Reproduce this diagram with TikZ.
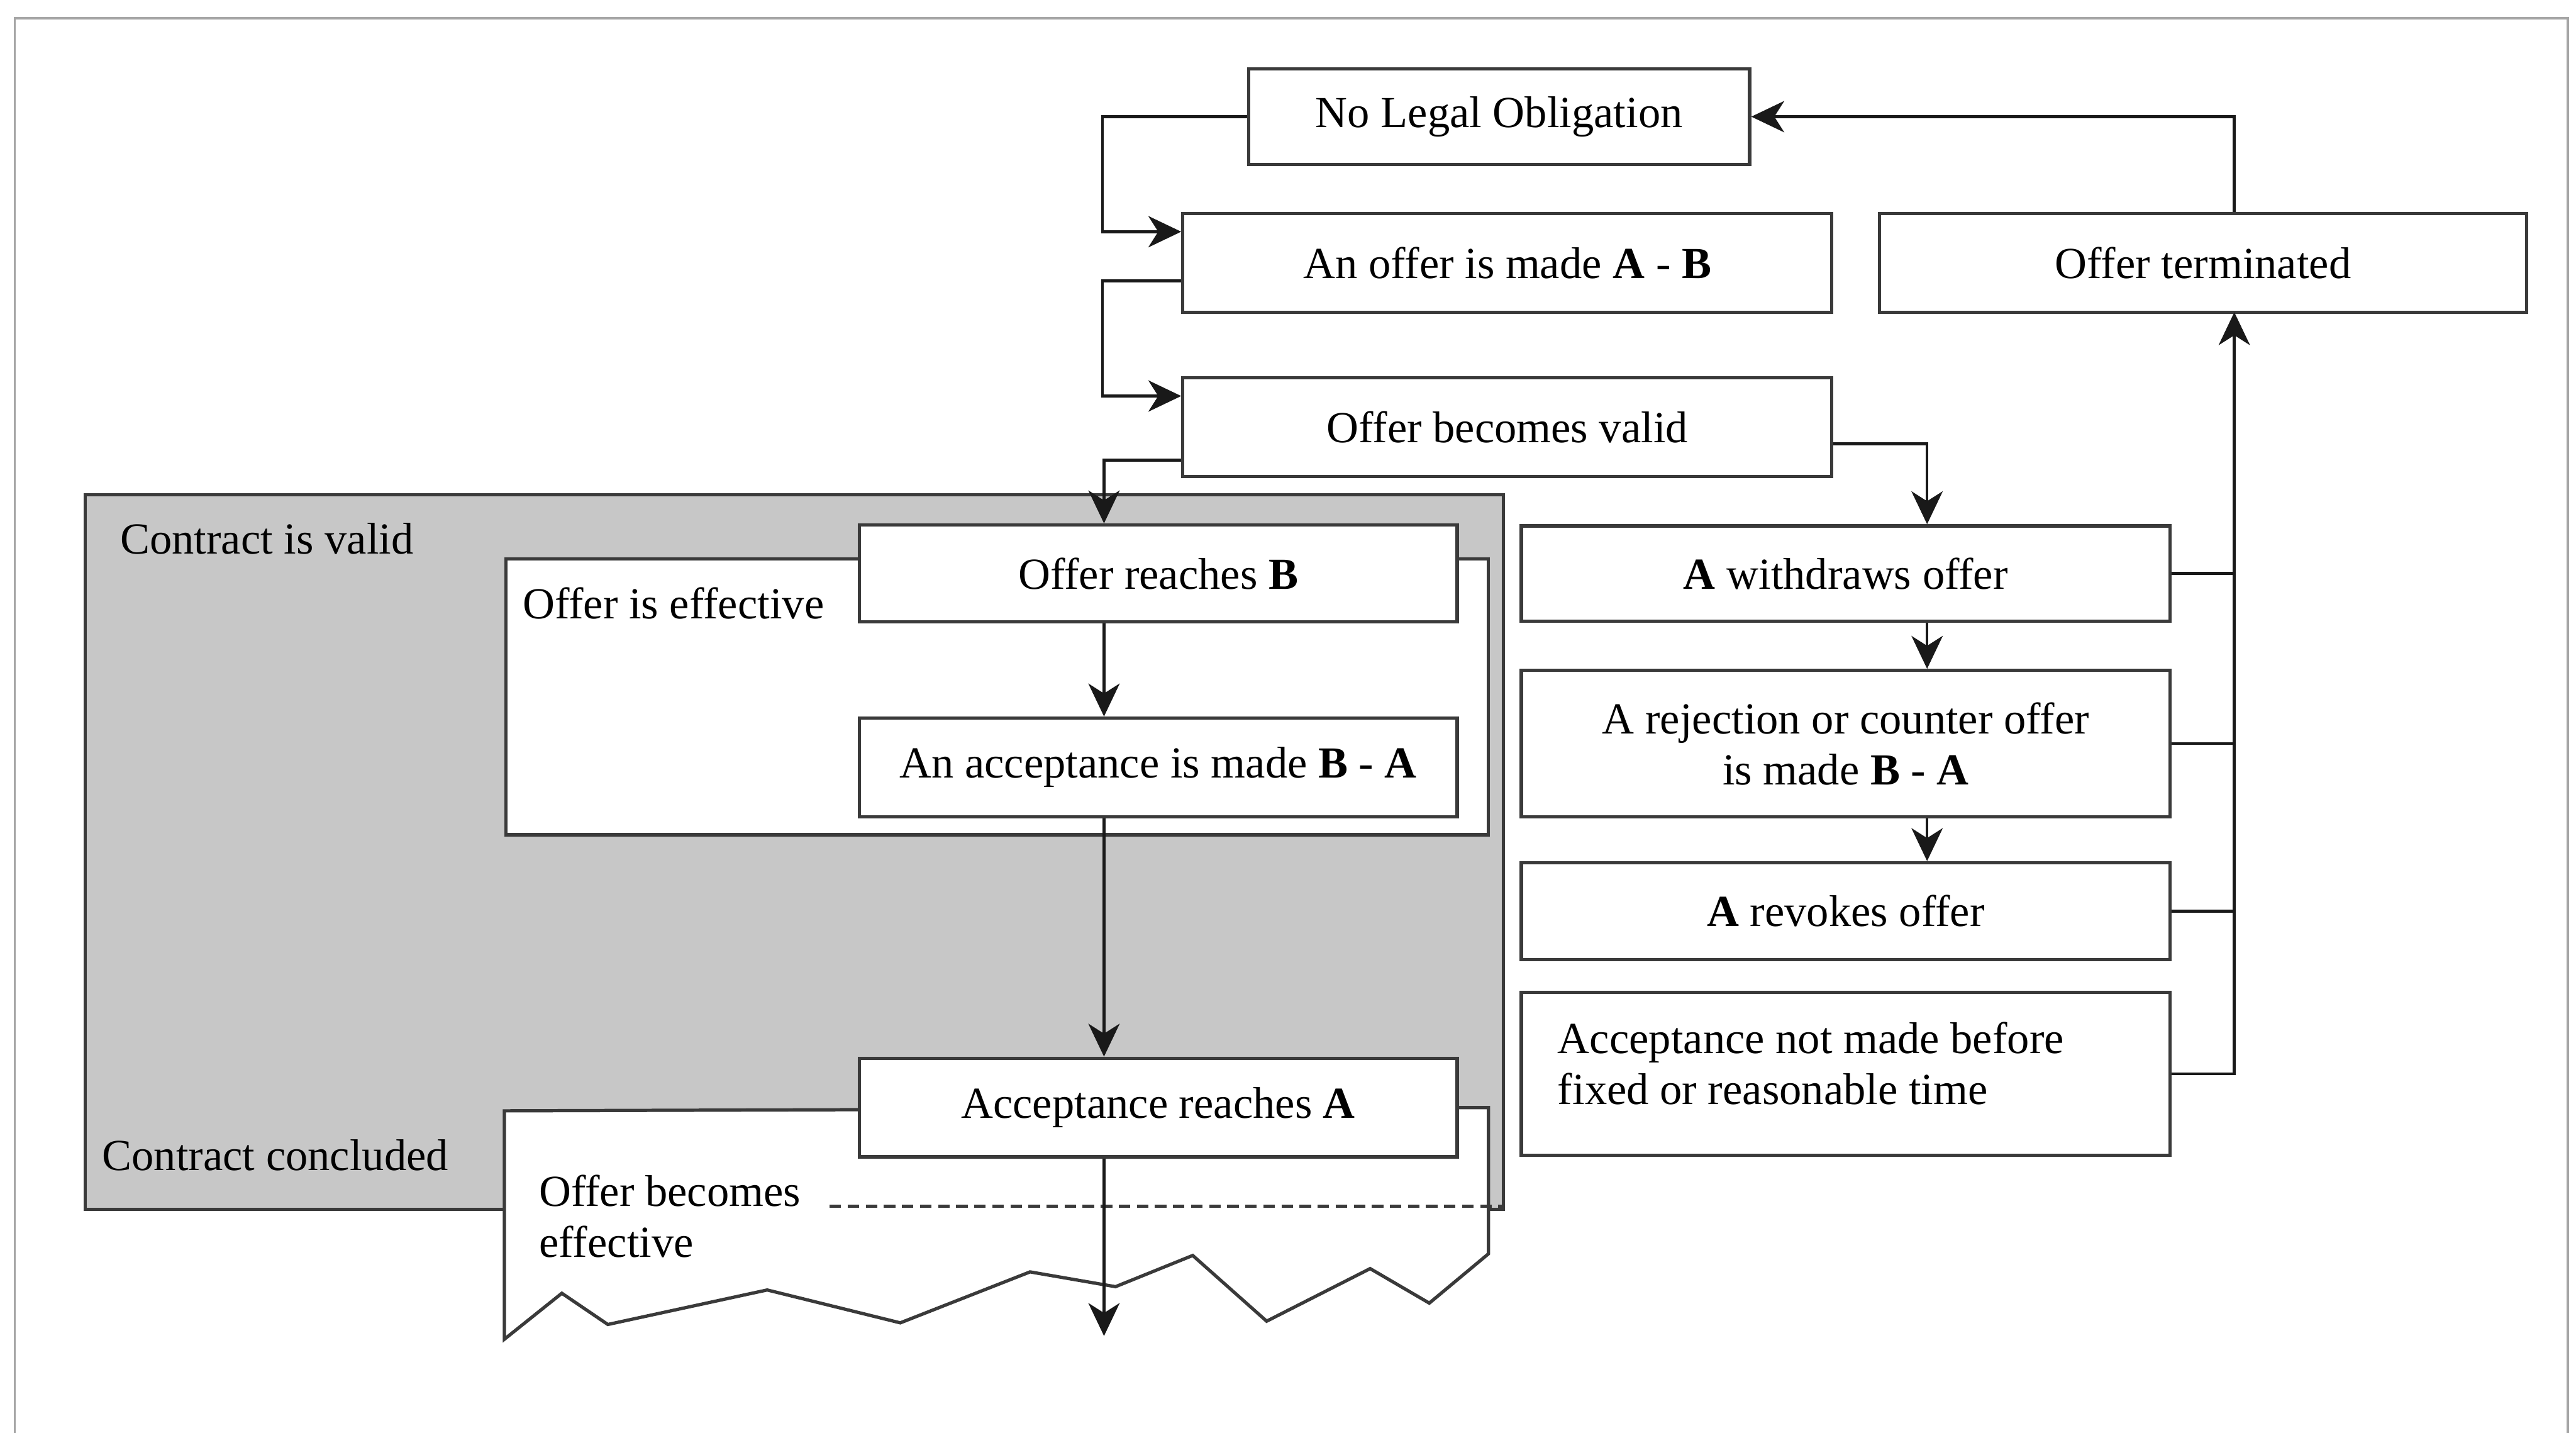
\documentclass[tikz,border=0pt]{standalone}
\usepackage{fontspec}
\setmainfont{Liberation Serif}
\usetikzlibrary{arrows.meta}
\definecolor{shade}{HTML}{C7C7C7}
\definecolor{edge}{HTML}{3A3A3A}
\begin{document}
\begin{tikzpicture}[x=1pt,y=-1pt,
  every node/.style={font=\fontsize{27}{31}\selectfont},
  box/.style={draw=edge,line width=2pt,fill=white,inner sep=0pt,align=center},
  rbox/.style={box,minimum width=395pt},
  cbox/.style={box,minimum width=364pt,minimum height=59pt},
  lbl/.style={inner sep=0pt,anchor=west,align=left},
  conn/.style={line width=1.7pt,black!90},
  arr/.style={conn,-{Stealth[length=20pt,width=19pt,inset=6pt]}}]
\useasboundingbox (0,0) rectangle (1568,871.7);
\fill[white] (0,0) rectangle (1568,871.7);
% page frame
\draw[gray!70,line width=1.5pt] (9,900) -- (9,11) -- (1563,11) -- (1563,900);

% shaded region: contract is valid
\draw[edge,line width=2pt,fill=shade] (52,736) -- (52,301) -- (915,301) -- (915,736) -- cycle;
% offer is effective
\draw[edge,line width=2pt,fill=white] (308,340) rectangle (906,508);
% offer becomes effective (torn lower edge)
\draw[edge,line width=2pt,fill=white] (307,815) -- (307,676) -- (906,674) -- (906,763)
  -- (870,793) -- (834,772) -- (771,804) -- (726,764) -- (679,783) -- (627,774)
  -- (548,805) -- (467,785) -- (370,806) -- (342,787) -- cycle;
\draw[edge,line width=2pt,dashed,dash pattern=on 7pt off 4pt] (505,734) -- (915,734);

% labels of the regions
\node[lbl] (cvalid) at (73,328) {Contract is valid};
\node[lbl] (oeff) at (318,367) {Offer is effective};
\node[lbl] (cconc) at (62,703) {Contract concluded};
\node[lbl] (obeff) at (328,740) {Offer becomes\\effective};

% boxes
\node[box,minimum width=305pt,minimum height=58pt] (nlo) at (912.5,71) {No Legal Obligation};
\node[rbox,minimum height=60pt] (offer) at (917.5,160) {An offer is made \textbf{A} - \textbf{B}};
\node[box,minimum width=394pt,minimum height=60pt] (term) at (1341,160) {Offer terminated};
\node[rbox,minimum height=60pt] (valid) at (917.5,260) {Offer becomes valid};
\node[cbox] (reachB) at (705,349) {Offer reaches \textbf{B}};
\node[cbox,minimum height=60pt] (accmade) at (705,467) {An acceptance is made \textbf{B} - \textbf{A}};
\node[cbox,minimum height=60pt] (accreach) at (705,674) {Acceptance reaches \textbf{A}};
\node[rbox,minimum height=58pt] (withdraw) at (1123.5,349) {\textbf{A} withdraws offer};
\node[rbox,minimum height=89pt] (reject) at (1123.5,452.5) {A rejection or counter offer\\is made \textbf{B} - \textbf{A}};
\node[rbox,minimum height=59pt] (revoke) at (1123.5,554.5) {\textbf{A} revokes offer};
\node[rbox,minimum height=99pt] (notmade) at (1123.5,653.5) {};
\node[lbl] (notmadetxt) at (948,647) {Acceptance not made before\\fixed or reasonable time};

% connectors
\coordinate (trunk) at (1360,190);
\coordinate (out) at (672,813);
\draw[arr] (nlo.west) -- ++(-88,0) |- ([yshift=19pt]offer.west);
\draw[arr] ([yshift=-11pt]offer.west) -- ++(-48,0) |- ([yshift=19pt]valid.west);
\draw[arr] ([yshift=-20pt]valid.west) -| ([xshift=-33pt]reachB.north);
\draw[arr] ([yshift=-10pt]valid.east) -| ([xshift=49.5pt]withdraw.north);
\draw[arr] ([xshift=-33pt]reachB.south) -- ([xshift=-33pt]accmade.north);
\draw[arr] ([xshift=-33pt]accmade.south) -- ([xshift=-33pt]accreach.north);
\draw[arr] ([xshift=-33pt]accreach.south) -- (out);
\draw[arr] ([xshift=49.5pt]withdraw.south) -- ([xshift=49.5pt]reject.north);
\draw[arr] ([xshift=49.5pt]reject.south) -- ([xshift=49.5pt]revoke.north);
\draw[arr] (notmade.east) -| (trunk);
\draw[conn] (withdraw.east) -- (withdraw.east -| trunk);
\draw[conn] (reject.east) -- (reject.east -| trunk);
\draw[conn] (revoke.east) -- (revoke.east -| trunk);
\draw[arr] (term.north -| trunk) |- (nlo.east);
\end{tikzpicture}
\end{document}
